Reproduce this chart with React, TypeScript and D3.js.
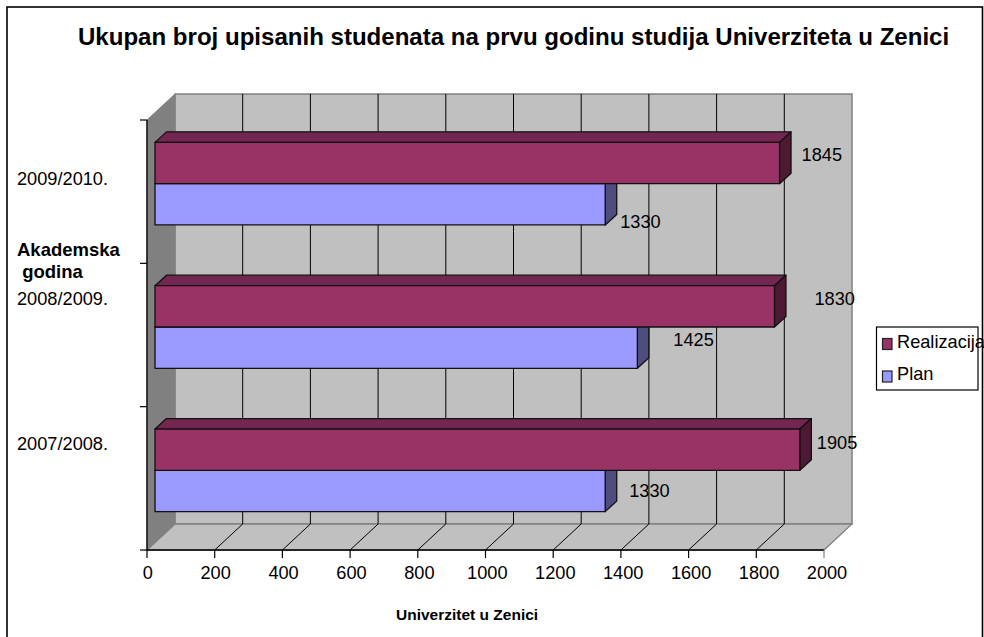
import React from "react";
import * as d3 from "d3";

const categories = ["2009/2010.", "2008/2009.", "2007/2008."];
const realizacija = [1845, 1830, 1905];
const plan = [1330, 1425, 1330];
const xTicks = [0, 200, 400, 600, 800, 1000, 1200, 1400, 1600, 1800, 2000];
const titleText = "Ukupan broj upisanih studenata na prvu godinu studija Univerziteta u Zenici";

const W = 984, H = 637;
const FONT = "'Liberation Sans', Arial, sans-serif";
const PURPLE = ["#993366", "#732650", "#4d1933"];
const BLUE = ["#9999FF", "#7373BF", "#4d4d80"];
const DX = 28, DY = -26;
const BAR_DX = 11.5, BAR_DY = -10.5, BAR_X0 = 8, BAR_Y0 = -8;
// hand-placed label anchors in the original
const realLabelDx = [22, 40, 17];
const planLabelDx = [15, 36, 24];
const realLabelY = [161, 305, 449];
const planLabelY = [228, 346, 497];
const catLabelY = [185, 305, 450];
const labelSize = 18.2;

const x = d3.scaleLinear().domain([0, 2000]).range([147, 824]);
const xLabel = d3.scaleLinear().domain([0, 2000]).range([147.7, 827]);
const y = d3.scaleBand<string>().domain(categories).range([120, 550]);

function Bar({ value, top, h, pal }: { value: number; top: number; h: number; pal: string[] }) {
  const x0 = x(0) + BAR_X0;
  const x1 = x(value) + BAR_X0;
  const st = { stroke: "#111", strokeWidth: 1.3, strokeLinejoin: "round" as const };
  return (
    <g>
      <path d={`M${x0},${top}L${x0 + BAR_DX},${top + BAR_DY}L${x1 + BAR_DX},${top + BAR_DY}L${x1},${top}Z`} fill={pal[1]} {...st} />
      <path d={`M${x1},${top}L${x1 + BAR_DX},${top + BAR_DY}L${x1 + BAR_DX},${top + h + BAR_DY}L${x1},${top + h}Z`} fill={pal[2]} {...st} />
      <rect x={x0} y={top} width={x1 - x0} height={h} fill={pal[0]} {...st} />
    </g>
  );
}

export default function App() {
  const x0 = x(0), x1 = x(2000), yT = 120, yB = 550;
  const band = y.bandwidth();
  const barH = 41.3;
  const catTicks = [...categories.map((c) => y(c)!), yB];
  return (
    <svg width={W} height={H} style={{ position: "absolute", left: 0, top: 0, background: "#fff" }} fontFamily={FONT}>
      <rect x={7} y={7} width={975.5} height={650} fill="#fff" stroke="#000" strokeWidth={1.6} />
      <text x={78} y={45} fontSize={24.05} fontWeight="bold" fill="#000">{titleText}</text>

      <path d={`M${x0 + DX},${yT + DY}H${x1 + DX}V${yB + DY}H${x0 + DX}Z`} fill="#C0C0C0" stroke="#808080" strokeWidth={1.5} />
      <path d={`M${x0},${yT}L${x0 + DX},${yT + DY}V${yB + DY}L${x0},${yB}Z`} fill="#808080" stroke="#808080" />
      <path d={`M${x0},${yB}L${x0 + DX},${yB + DY}H${x1 + DX}L${x1},${yB}Z`} fill="#C0C0C0" stroke="#808080" strokeWidth={1.3} />

      {xTicks.slice(1, -1).map((t) => (
        <path key={t} d={`M${x(t)},${yB}L${x(t) + DX},${yB + DY}V${yT + DY}`} fill="none" stroke="#000" strokeWidth={1} />
      ))}

      <path d={`M${x0},${yT}V${yB}H${x1}`} fill="none" stroke="#000" strokeWidth={1.3} />
      {catTicks.map((t) => (
        <path key={t} d={`M${x0 - 7},${t}H${x0}`} stroke="#000" strokeWidth={1.2} />
      ))}
      {xTicks.map((t) => (
        <path key={t} d={`M${x(t)},${yB}V${yB + 8}`} stroke={t === 2000 ? "#808080" : "#000"} strokeWidth={1.2} />
      ))}
      {xTicks.map((t) => (
        <text key={t} x={xLabel(t)} y={579} textAnchor="middle" fontSize={labelSize} fill="#000">{t}</text>
      ))}

      {categories.map((c, i) => {
        const top = y(c)! + band / 2 - barH + BAR_Y0;
        return (
          <g key={c}>
            <Bar value={plan[i]} top={top + barH} h={barH} pal={BLUE} />
            <Bar value={realizacija[i]} top={top} h={barH} pal={PURPLE} />
            <text x={17} y={catLabelY[i]} fontSize={labelSize} fill="#000">{c}</text>
            <text x={x(realizacija[i]) + BAR_X0 + realLabelDx[i]} y={realLabelY[i]} fontSize={labelSize} fill="#000">{realizacija[i]}</text>
            <text x={x(plan[i]) + BAR_X0 + planLabelDx[i]} y={planLabelY[i]} fontSize={labelSize} fill="#000">{plan[i]}</text>
          </g>
        );
      })}

      <text x={17} y={256} fontSize={18.5} fontWeight="bold" fill="#000">Akademska</text>
      <text x={17} y={278} fontSize={18.5} fontWeight="bold" fill="#000" xmlSpace="preserve"> godina</text>
      <text x={396} y={620} fontSize={15.5} fontWeight="bold" fill="#000">Univerzitet u Zenici</text>

      <rect x={876.5} y={327} width={101.5} height={63} fill="#fff" stroke="#000" strokeWidth={1.2} />
      <rect x={882.5} y={338.5} width={9.5} height={11} fill={PURPLE[0]} stroke="#222" strokeWidth={1.2} />
      <rect x={882.5} y={371} width={9.5} height={11} fill={BLUE[0]} stroke="#222" strokeWidth={1.2} />
      <text x={897} y={348} fontSize={labelSize} fill="#000">Realizacija</text>
      <text x={897} y={380} fontSize={labelSize} fill="#000">Plan</text>
    </svg>
  );
}
